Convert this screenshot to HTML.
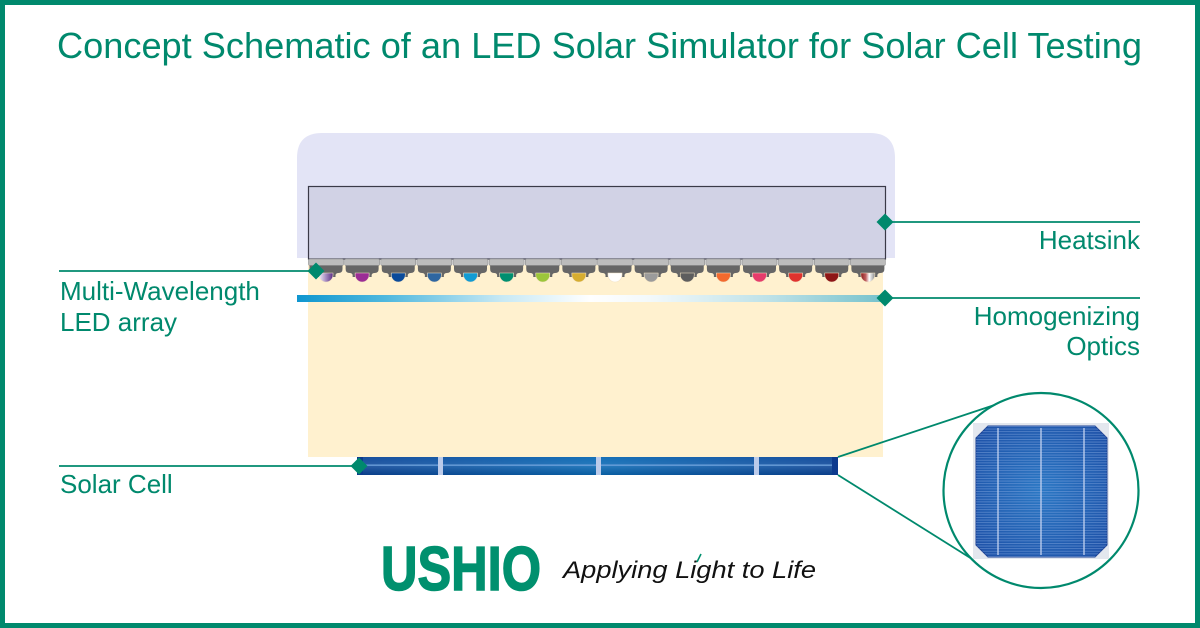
<!DOCTYPE html>
<html><head><meta charset="utf-8"><style>
html,body{margin:0;padding:0;background:#fff;}
svg{display:block;}
</style></head><body>
<svg width="1200" height="628" viewBox="0 0 1200 628" xmlns="http://www.w3.org/2000/svg">
<defs>
  <linearGradient id="optics" x1="297" y1="0" x2="884" y2="0" gradientUnits="userSpaceOnUse">
    <stop offset="0" stop-color="#0f96cf"/>
    <stop offset="0.15" stop-color="#4fb8de"/>
    <stop offset="0.35" stop-color="#c8e9f4"/>
    <stop offset="0.5" stop-color="#ffffff"/>
    <stop offset="0.6" stop-color="#f3f9fb"/>
    <stop offset="0.8" stop-color="#bfe2e8"/>
    <stop offset="1" stop-color="#76c2cc"/>
  </linearGradient>
  <linearGradient id="cellbody" x1="357" y1="0" x2="838" y2="0" gradientUnits="userSpaceOnUse">
    <stop offset="0" stop-color="#0c4598"/>
    <stop offset="0.5" stop-color="#0a69b4"/>
    <stop offset="1" stop-color="#0c4598"/>
  </linearGradient>
  <linearGradient id="cellv" x1="0" y1="457" x2="0" y2="475" gradientUnits="userSpaceOnUse">
    <stop offset="0" stop-color="#ffffff" stop-opacity="0.05"/>
    <stop offset="0.5" stop-color="#ffffff" stop-opacity="0.12"/>
    <stop offset="1" stop-color="#000000" stop-opacity="0.1"/>
  </linearGradient>
  <linearGradient id="led1" x1="0" y1="0" x2="1" y2="0">
    <stop offset="0" stop-color="#f2eef6"/>
    <stop offset="0.5" stop-color="#a58ac0"/>
    <stop offset="1" stop-color="#5b2d84"/>
  </linearGradient>
  <linearGradient id="led16" x1="0" y1="0" x2="1" y2="0">
    <stop offset="0" stop-color="#8c1c1c"/>
    <stop offset="0.35" stop-color="#c06060"/>
    <stop offset="0.6" stop-color="#ffffff"/>
    <stop offset="1" stop-color="#8a8a8a"/>
  </linearGradient>
  <radialGradient id="wafer" cx="1041" cy="491" r="90" gradientUnits="userSpaceOnUse">
    <stop offset="0" stop-color="#2a78c4"/>
    <stop offset="1" stop-color="#1d4fa6"/>
  </radialGradient>
  <pattern id="fingers" x="0" y="426" width="10" height="2.6" patternUnits="userSpaceOnUse">
    <rect x="0" y="0" width="10" height="0.9" fill="#7ea2dc" fill-opacity="0.55"/>
  </pattern>
  <g id="mod">
    <rect x="0.5" y="259" width="35" height="6.5" rx="1.5" fill="#bcbcbc" stroke="#8e8e8e" stroke-width="0.6"/>
    <path d="M1.5,265.5 H34.5 V269 Q34.5,273 30.5,273 Q28,273 27.5,275 V277 H8.5 V275 Q8,273 5.5,273 Q1.5,273 1.5,269 Z" fill="#666666"/>
  </g>
</defs>

<rect x="0" y="0" width="1200" height="628" fill="#ffffff"/>
<rect x="2.5" y="2.5" width="1195" height="623" fill="none" stroke="#00896d" stroke-width="5"/>

<!-- Title -->
<text x="57" y="58" font-family="'Liberation Sans', Arial, sans-serif" font-size="36" fill="#00896d" textLength="1085" lengthAdjust="spacingAndGlyphs">Concept Schematic of an LED Solar Simulator for Solar Cell Testing</text>

<!-- Heatsink outer -->
<path d="M297,258 V158 Q297,133 322,133 H870 Q895,133 895,158 V258 Z" fill="#e3e4f6"/>
<!-- beige light region -->
<rect x="308" y="265" width="575" height="192" fill="#fff1cf"/>
<!-- Heatsink inner -->
<rect x="308.5" y="186.5" width="577" height="72.5" fill="#d1d2e5" stroke="#3a3a48" stroke-width="1.2"/>

<!-- LED modules -->
<g>
  <use href="#mod" x="308"/>
  <use href="#mod" x="344.125"/>
  <use href="#mod" x="380.25"/>
  <use href="#mod" x="416.375"/>
  <use href="#mod" x="452.5"/>
  <use href="#mod" x="488.625"/>
  <use href="#mod" x="524.75"/>
  <use href="#mod" x="560.875"/>
  <use href="#mod" x="597"/>
  <use href="#mod" x="633.125"/>
  <use href="#mod" x="669.25"/>
  <use href="#mod" x="705.375"/>
  <use href="#mod" x="741.5"/>
  <use href="#mod" x="777.625"/>
  <use href="#mod" x="813.75"/>
  <use href="#mod" x="849.875"/>
</g>
<g stroke="#f3e3c3" stroke-width="0.6">
  <path transform="translate(308,0)" d="M11,273 H25 V275 A7,7 0 0 1 11,275 Z" fill="url(#led1)"/>
  <path transform="translate(344.125,0)" d="M11,273 H25 V275 A7,7 0 0 1 11,275 Z" fill="#9b2d95"/>
  <path transform="translate(380.25,0)" d="M11,273 H25 V275 A7,7 0 0 1 11,275 Z" fill="#0b4b9b"/>
  <path transform="translate(416.375,0)" d="M11,273 H25 V275 A7,7 0 0 1 11,275 Z" fill="#2e66a1"/>
  <path transform="translate(452.5,0)" d="M11,273 H25 V275 A7,7 0 0 1 11,275 Z" fill="#119bd3"/>
  <path transform="translate(488.625,0)" d="M11,273 H25 V275 A7,7 0 0 1 11,275 Z" fill="#008f70"/>
  <path transform="translate(524.75,0)" d="M11,273 H25 V275 A7,7 0 0 1 11,275 Z" fill="#9cc63a"/>
  <path transform="translate(560.875,0)" d="M11,273 H25 V275 A7,7 0 0 1 11,275 Z" fill="#d6ad30"/>
  <path transform="translate(597,0)" d="M11,273 H25 V275 A7,7 0 0 1 11,275 Z" fill="#ffffff"/>
  <path transform="translate(633.125,0)" d="M11,273 H25 V275 A7,7 0 0 1 11,275 Z" fill="#9b9b9b"/>
  <path transform="translate(669.25,0)" d="M11,273 H25 V275 A7,7 0 0 1 11,275 Z" fill="#5e5e5e"/>
  <path transform="translate(705.375,0)" d="M11,273 H25 V275 A7,7 0 0 1 11,275 Z" fill="#f36a2e"/>
  <path transform="translate(741.5,0)" d="M11,273 H25 V275 A7,7 0 0 1 11,275 Z" fill="#e63c6b"/>
  <path transform="translate(777.625,0)" d="M11,273 H25 V275 A7,7 0 0 1 11,275 Z" fill="#e0332e"/>
  <path transform="translate(813.75,0)" d="M11,273 H25 V275 A7,7 0 0 1 11,275 Z" fill="#8e1616"/>
  <path transform="translate(849.875,0)" d="M11,273 H25 V275 A7,7 0 0 1 11,275 Z" fill="url(#led16)"/>
</g>

<!-- Homogenizing optics bar -->
<rect x="297" y="295" width="587" height="7" fill="url(#optics)"/>

<!-- Solar cell -->
<rect x="357" y="457" width="481" height="18" fill="url(#cellbody)"/>
<rect x="357" y="457" width="481" height="18" fill="url(#cellv)"/>
<rect x="357" y="457" width="6" height="18" fill="#0d3a8e"/>
<rect x="832" y="457" width="6" height="18" fill="#0d3a8e"/>
<rect x="363" y="464.5" width="469" height="1.3" fill="#6fa2dc"/>
<rect x="438" y="457" width="5" height="18" fill="#bccbea"/>
<rect x="596" y="457" width="5" height="18" fill="#bccbea"/>
<rect x="754" y="457" width="5" height="18" fill="#bccbea"/>

<!-- Leader lines -->
<g stroke="#00896d" stroke-width="1.8" fill="none">
  <line x1="885" y1="222" x2="1140" y2="222"/>
  <line x1="885" y1="298" x2="1140" y2="298"/>
  <line x1="59" y1="271" x2="316" y2="271"/>
  <line x1="59" y1="466" x2="359" y2="466"/>
  <line x1="838" y1="457" x2="996" y2="404.5"/>
  <line x1="838" y1="475" x2="980" y2="564"/>
</g>
<g fill="#00896d">
  <path d="M885,213.5 L893.5,222 L885,230.5 L876.5,222 Z"/>
  <path d="M885,289.5 L893.5,298 L885,306.5 L876.5,298 Z"/>
  <path d="M316,262.5 L324.5,271 L316,279.5 L307.5,271 Z"/>
  <path d="M359,457.5 L367.5,466 L359,474.5 L350.5,466 Z"/>
</g>

<!-- Magnified circle -->
<circle cx="1041" cy="490.5" r="97.5" fill="#ffffff" stroke="#00896d" stroke-width="2.2"/>
<rect x="973" y="423" width="136" height="136" fill="#e3e7ee"/>
<path d="M988,426 H1095 L1107,438 V545 L1095,557 H988 L976,545 V438 Z" fill="url(#wafer)" stroke="#1a3f92" stroke-width="1"/>
<path d="M988,426 H1095 L1107,438 V545 L1095,557 H988 L976,545 V438 Z" fill="url(#fingers)"/>
<g stroke="#c3d2f0" stroke-width="1.3">
  <line x1="998" y1="428" x2="998" y2="555"/>
  <line x1="1041" y1="428" x2="1041" y2="555"/>
  <line x1="1084" y1="428" x2="1084" y2="555"/>
</g>

<!-- Labels -->
<g font-family="'Liberation Sans', Arial, sans-serif" font-size="26" fill="#00896d">
  <text x="1140" y="249" text-anchor="end">Heatsink</text>
  <text x="1140" y="325" text-anchor="end">Homogenizing</text>
  <text x="1140" y="355" text-anchor="end">Optics</text>
  <text x="60" y="300">Multi-Wavelength</text>
  <text x="60" y="331">LED array</text>
  <text x="60" y="493">Solar Cell</text>
</g>

<!-- Logo -->
<text x="381" y="590" font-family="'Liberation Sans', Arial, sans-serif" font-weight="bold" font-size="62" fill="#00906e" stroke="#00906e" stroke-width="1.5" textLength="160" lengthAdjust="spacingAndGlyphs">USHIO</text>
<text x="563" y="578" font-family="'Liberation Sans', Arial, sans-serif" font-style="italic" font-size="24" fill="#111111" textLength="253" lengthAdjust="spacingAndGlyphs">Applying Light to Life</text>
<line x1="697" y1="562" x2="701" y2="554" stroke="#00906e" stroke-width="1.6"/>
</svg>
</body></html>
